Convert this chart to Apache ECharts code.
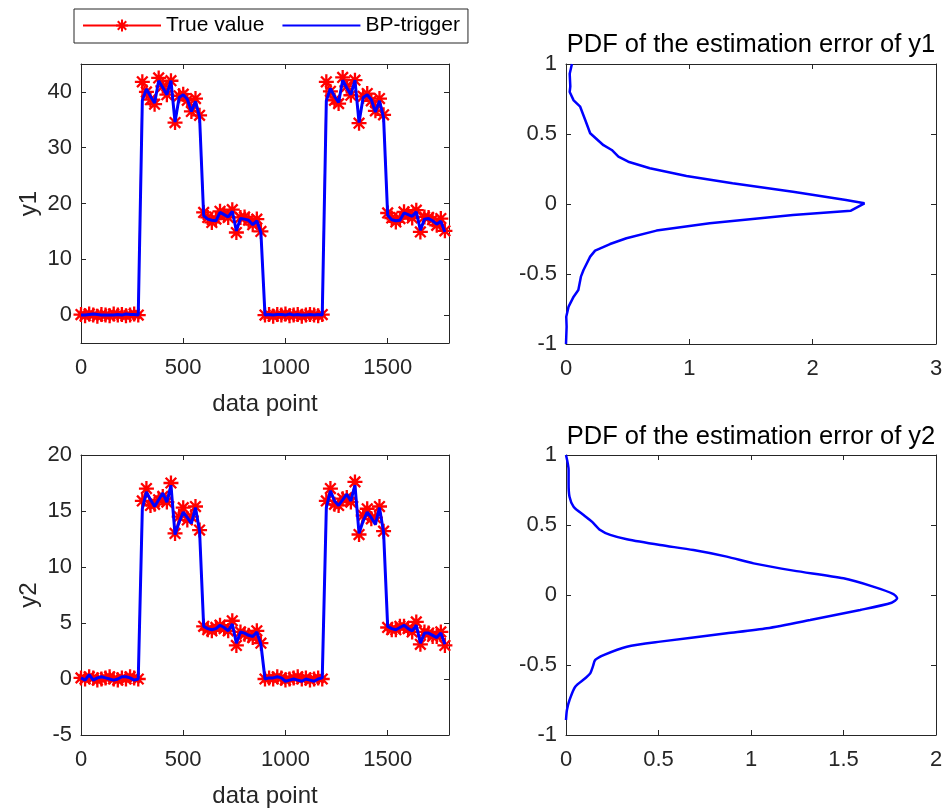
<!DOCTYPE html>
<html>
<head>
<meta charset="utf-8">
<script src="https://cdn.jsdelivr.net/npm/echarts@6/dist/echarts.min.js"></script>
<style>html,body{margin:0;padding:0;background:#fff}#c{width:947px;height:809px}</style>
</head>
<body>
<div id="c"></div>
<script>
// ---- data ----
const dataPoint = [0,20,40,60,80,100,120,140,160,180,200,220,240,260,280,
  300,320,340,360,380,400,420,440,460,480,500,520,540,560,580,
  600,620,640,660,680,700,720,740,760,780,800,820,840,860,880,
  900,920,940,960,980,1000,1020,1040,1060,1080,1100,1120,1140,1160,1180,
  1200,1220,1240,1260,1280,1300,1320,1340,1360,1380,1400,1420,1440,1460,1480,
  1500,1520,1540,1560,1580,1600,1620,1640,1660,1680,1700,1720,1740,1760,1780];

const y1True = [0.1,-0.1,0.2,0.0,-0.2,0.1,0.0,-0.1,0.2,0.0,0.1,-0.1,0.0,0.2,0.0,
  41.8,40.0,38.6,37.8,42.5,41.0,39.5,42.0,34.5,39.3,39.6,38.5,36.5,38.8,35.8,
  18.4,17.5,16.6,17.2,18.6,18.0,17.5,18.9,14.8,17.5,17.6,17.0,16.2,17.2,15.0,
  0.0,0.1,-0.2,0.1,0.0,0.2,-0.1,0.0,0.1,-0.2,0.0,0.1,0.0,-0.1,0.1,
  41.8,40.1,38.5,37.9,42.6,41.0,39.4,42.1,34.4,39.2,39.7,38.4,36.6,38.8,35.9,
  18.3,17.4,16.7,17.3,18.5,18.1,17.4,18.8,14.9,17.6,17.5,17.1,16.1,17.3,15.1];

const y1BP = [0.0,0.0,0.1,0.2,0.1,0.0,0.0,0.0,0.0,0.1,0.0,0.2,0.1,0.1,0.0,
  38.5,40.5,39.2,38.0,42.0,40.8,39.5,42.0,34.6,39.0,39.5,38.7,36.5,38.3,35.5,
  17.8,17.2,17.0,16.9,18.4,18.0,17.6,18.6,15.1,17.3,17.2,17.0,16.2,16.9,14.8,
  0.0,0.1,0.0,0.1,0.1,0.0,0.2,0.0,0.1,0.0,0.0,0.1,0.0,0.1,0.0,
  38.4,40.6,39.2,38.1,42.1,40.7,39.5,42.1,34.5,39.0,39.5,38.6,36.4,38.4,35.4,
  17.9,17.1,16.9,17.0,18.3,18.0,17.7,18.5,15.2,17.2,17.3,16.9,16.3,16.8,14.9];

const y2True = [0.1,0.0,0.2,0.1,-0.1,0.0,0.1,0.2,0.0,-0.1,0.1,0.0,0.2,0.1,0.0,
  15.9,17.0,15.5,15.6,16.0,16.3,15.8,17.5,13.0,14.5,15.3,14.2,14.5,15.4,13.3,
  4.7,4.4,4.3,4.6,4.8,4.5,4.3,5.2,3.0,4.2,4.0,3.9,3.7,4.3,3.2,
  0.0,0.1,0.0,0.2,0.1,-0.1,0.0,0.1,0.2,0.0,0.1,-0.1,0.0,0.1,0.0,
  15.9,17.0,15.6,15.5,16.1,16.2,15.8,17.6,12.9,14.6,15.2,14.3,14.4,15.4,13.2,
  4.6,4.4,4.4,4.7,4.7,4.5,4.2,5.1,3.1,4.2,4.1,3.8,3.8,4.2,3.0];

const y2BP = [0.1,-0.1,0.4,-0.1,0.1,0.2,0.1,0.0,-0.1,0.0,0.2,0.2,0.1,-0.1,0.0,
  15.2,16.7,16.0,15.4,16.0,16.6,15.8,17.3,12.9,14.0,14.9,14.4,13.9,15.3,13.2,
  4.7,4.5,4.4,4.5,4.8,4.6,4.3,4.9,3.2,4.2,4.1,3.9,3.8,4.2,3.1,
  0.0,0.1,0.1,0.2,0.1,-0.2,-0.1,0.0,-0.1,-0.2,0.0,-0.1,-0.2,0.0,0.1,
  15.3,16.8,15.9,15.5,16.0,16.5,15.9,17.3,13.0,14.1,14.9,14.4,13.8,15.3,13.1,
  4.7,4.5,4.4,4.6,4.8,4.5,4.3,4.8,3.2,4.1,4.1,3.9,3.7,4.1,3.1];

// PDF of estimation error of y1 (error value, density)
const err1 = [1.0,0.93,0.84,0.80,0.74,0.695,0.60,0.505,0.42,0.386,0.338,0.302,0.255,0.20,0.148,0.088,0.029,0.005,-0.048,-0.079,-0.138,-0.19,-0.245,-0.286,-0.333,-0.376,-0.471,-0.519,-0.614,-0.662,-0.733,-0.805,-0.876,-1.0];
const pdf1 = [0.048,0.03,0.035,0.03,0.062,0.115,0.156,0.196,0.304,0.371,0.425,0.505,0.68,0.977,1.35,1.84,2.27,2.42,2.31,1.84,1.165,0.734,0.49,0.357,0.236,0.196,0.142,0.121,0.10,0.062,0.021,0.002,0.005,0.0];

// PDF of estimation error of y2
const err2 = [1.0,0.893,0.798,0.702,0.631,0.571,0.524,0.464,0.429,0.398,0.357,0.321,0.274,0.226,0.174,0.119,0.06,0.007,-0.024,-0.055,-0.107,-0.179,-0.238,-0.274,-0.333,-0.369,-0.429,-0.464,-0.512,-0.56,-0.595,-0.655,-0.75,-0.821,-0.893];
const pdf2 = [0,0.014,0.014,0.019,0.041,0.095,0.14,0.185,0.239,0.329,0.509,0.689,0.869,1.014,1.23,1.5,1.66,1.77,1.79,1.76,1.59,1.32,1.086,0.869,0.509,0.329,0.203,0.158,0.145,0.131,0.104,0.05,0.019,0.005,0];

const xTicksLeft = [0,500,1000,1500];
const y1Ticks = [0,10,20,30,40];
const y2Ticks = [-5,0,5,10,15,20];
const errTicks = [-1,-0.5,0,0.5,1];
const pdf1Ticks = [0,1,2,3];
const pdf2Ticks = [0,0.5,1,1.5,2];

const legendNames = ['True value','BP-trigger'];
const titles = ['PDF of the estimation error of y1','PDF of the estimation error of y2'];

// ---- chart ----
const FONT = 'Liberation Sans, Arial, Helvetica, sans-serif';
const TXT = '#262626';
const TICK_FS = 22;
const NAME_FS = 24;
const TITLE_FS = 25.5;
const ASTERISK = 'path://M0,-10L0,10M-10,0L10,0M-7.07,-7.07L7.07,7.07M-7.07,7.07L7.07,-7.07';

const grids = [
  {left: 81, top: 64, width: 368, height: 279},
  {left: 566, top: 64, width: 370, height: 280},
  {left: 81, top: 455, width: 368, height: 280},
  {left: 566, top: 455, width: 370, height: 280}
];

function pairs(xs, ys){ return xs.map((x,i)=>[x, ys[i]]); }
const fmt = v => String(v);

function mainAxis(gridIndex, pos, min, max, ticks, name, nameGap){
  return {
    type: 'value', gridIndex, position: pos, min, max,
    name: name || '', nameLocation: 'middle', nameGap: nameGap || 0,
    nameTextStyle: {fontFamily: FONT, fontSize: NAME_FS, color: TXT},
    axisLine: {show: true, onZero: false, lineStyle: {color: TXT, width: 1}},
    axisTick: {show: true, inside: true, length: 5, lineStyle: {color: TXT}, customValues: ticks},
    axisLabel: {show: true, fontFamily: FONT, fontSize: TICK_FS, color: TXT,
      margin: (pos === 'bottom') ? 14 : 9, customValues: ticks, formatter: fmt},
    splitLine: {show: false}
  };
}
function mirrorAxis(gridIndex, pos, min, max, ticks){
  return {
    type: 'value', gridIndex, position: pos, min, max,
    axisLine: {show: true, onZero: false, lineStyle: {color: TXT, width: 1}},
    axisTick: {show: true, inside: true, length: 5, lineStyle: {color: TXT}, customValues: ticks},
    axisLabel: {show: false, customValues: ticks},
    splitLine: {show: false}
  };
}

const xAxes = [
  mainAxis(0,'bottom',0,1800,xTicksLeft,'data point',49),
  mainAxis(1,'bottom',0,3,pdf1Ticks),
  mainAxis(2,'bottom',0,1800,xTicksLeft,'data point',49),
  mainAxis(3,'bottom',0,2,pdf2Ticks),
  mirrorAxis(0,'top',0,1800,xTicksLeft),
  mirrorAxis(1,'top',0,3,pdf1Ticks),
  mirrorAxis(2,'top',0,1800,xTicksLeft),
  mirrorAxis(3,'top',0,2,pdf2Ticks)
];
const yAxes = [
  mainAxis(0,'left',-5,45,y1Ticks,'y1',40),
  mainAxis(1,'left',-1,1,errTicks),
  mainAxis(2,'left',-5,20,y2Ticks,'y2',40),
  mainAxis(3,'left',-1,1,errTicks),
  mirrorAxis(0,'right',-5,45,y1Ticks),
  mirrorAxis(1,'right',-1,1,errTicks),
  mirrorAxis(2,'right',-5,20,y2Ticks),
  mirrorAxis(3,'right',-1,1,errTicks)
];

function trueSeries(idx, ys){
  return {
    name: legendNames[0], type: 'line', xAxisIndex: idx, yAxisIndex: idx,
    data: pairs(dataPoint, ys), symbol: ASTERISK, symbolSize: 15, showAllSymbol: true,
    lineStyle: {color: '#ff0000', width: 1.5},
    itemStyle: {color: '#ff0000', borderColor: '#ff0000', borderWidth: 2.3},
    animation: false, z: 2
  };
}
function bpSeries(idx, ys){
  return {
    name: legendNames[1], type: 'line', xAxisIndex: idx, yAxisIndex: idx,
    data: pairs(dataPoint, ys), symbol: 'none',
    lineStyle: {color: '#0000ff', width: 3},
    itemStyle: {color: '#0000ff'},
    animation: false, z: 3
  };
}
function pdfSeries(idx, ps, es, smooth){
  return {
    type: 'line', xAxisIndex: idx, yAxisIndex: idx,
    data: pairs(ps, es), symbol: 'none', smooth: smooth,
    lineStyle: {color: '#0000ff', width: 2.5},
    animation: false, z: 3
  };
}

const option = {
  animation: false,
  backgroundColor: '#ffffff',
  textStyle: {fontFamily: FONT},
  title: [
    {text: titles[0], left: 751, top: 32, textAlign: 'center', padding: 0,
     textStyle: {fontFamily: FONT, fontSize: TITLE_FS, fontWeight: 'normal', color: '#000'}},
    {text: titles[1], left: 751, top: 424, textAlign: 'center', padding: 0,
     textStyle: {fontFamily: FONT, fontSize: TITLE_FS, fontWeight: 'normal', color: '#000'}}
  ],
  legend: {
    data: [
      {name: legendNames[0]},
      {name: legendNames[1], itemStyle: {opacity: 0}}
    ],
    left: 74, top: 9, orient: 'horizontal',
    padding: [6, 8, 7, 8], itemGap: 17, itemWidth: 78, itemHeight: 15,
    borderColor: TXT, borderWidth: 1, backgroundColor: '#fff',
    textStyle: {fontFamily: FONT, fontSize: 21, color: '#000'}
  },
  grid: grids.map(g => Object.assign({containLabel: false, show: false}, g)),
  xAxis: xAxes,
  yAxis: yAxes,
  series: [
    trueSeries(0, y1True), bpSeries(0, y1BP),
    trueSeries(2, y2True), bpSeries(2, y2BP),
    pdfSeries(1, pdf1, err1, false),
    pdfSeries(3, pdf2, err2, 0.25)
  ]
};

const chart = echarts.init(document.getElementById('c'), null, {renderer: 'canvas'});
chart.setOption(option);
</script>
</body>
</html>
